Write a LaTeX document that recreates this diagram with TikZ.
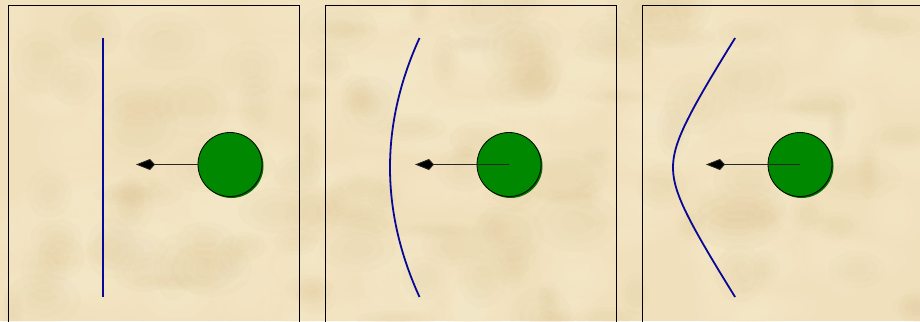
\documentclass[tikz,border=0pt]{standalone}
\usetikzlibrary{arrows.meta}
\definecolor{parch}{RGB}{240,224,188}
\definecolor{parchlight}{RGB}{250,238,208}
\definecolor{parchdark}{RGB}{222,198,150}
\definecolor{ballgreen}{RGB}{0,136,0}
\definecolor{navy}{RGB}{8,8,150}
\tikzset{
  panelbox/.style={draw=black, line width=1pt},
  ball/.style={circle, minimum size=64pt, inner sep=0pt, fill=ballgreen, draw=black, line width=0.8pt},
  ballshadow/.style={circle, minimum size=64pt, inner sep=0pt, fill=ballgreen!80!black},
  forcearrow/.style={draw=black!85, line width=0.9pt, -{Kite[length=19pt,width=11pt,inset=5pt,fill=black]}},
  wave/.style={draw=navy, line width=1.8pt}
}
\begin{document}
\begin{tikzpicture}[x=1pt,y=-1pt]
\clip (0,0) rectangle (920,321);
\fill[parch] (0,0) rectangle (920,321);
% parchment texture (soft mottling)
\pgfmathsetseed{7}
\foreach \i in {1,...,170} {
  \pgfmathsetmacro{\px}{rnd*920}
  \pgfmathsetmacro{\py}{rnd*321}
  \pgfmathsetmacro{\rx}{15+rnd*45}
  \pgfmathsetmacro{\ry}{10+rnd*30}
  \foreach \s in {1,0.7,0.4} {
    \fill[parchlight, opacity=0.12] (\px,\py) ellipse ({\s*\rx pt} and {\s*\ry pt});
  }
}
\foreach \i in {1,...,120} {
  \pgfmathsetmacro{\px}{rnd*920}
  \pgfmathsetmacro{\py}{rnd*321}
  \pgfmathsetmacro{\rx}{10+rnd*35}
  \pgfmathsetmacro{\ry}{8+rnd*25}
  \foreach \s in {1,0.7,0.4} {
    \fill[parchdark, opacity=0.07] (\px,\py) ellipse ({\s*\rx pt} and {\s*\ry pt});
  }
}
% panel frames
\draw[panelbox] (8,340) -- (8,6) -- (299,6) -- (299,340);
\draw[panelbox] (325,340) -- (325,6) -- (616,6) -- (616,340);
\draw[panelbox] (642,340) -- (642,6) -- (940,6);

% panel 1
\draw[wave] (103,38) -- (103,297);
\node[ballshadow] at (231.5,166) {};
\node[ball] (c1) at (230,164.5) {};
\coordinate (t1) at (136,164.5);
\draw[forcearrow] (c1.west) -- (t1);

% panel 2
\draw[wave] plot[domain=-129.5:129.5, samples=80, smooth] ({390+29.5*(\x/129.5)*(\x/129.5)}, {167.5+\x});
\node[ballshadow] at (510.5,166) {};
\node[ball] (c2) at (509,164.5) {};
\coordinate (t2) at (415,164.5);
\draw[forcearrow] (c2.center) -- (t2);

% panel 3
\draw[wave] plot[domain=-129.5:129.5, samples=80, smooth] ({673+26*(sqrt(1+(\x/40)*(\x/40))-1)}, {167.5+\x});
\node[ballshadow] at (801.5,166) {};
\node[ball] (c3) at (800,164.5) {};
\coordinate (t3) at (706,164.5);
\draw[forcearrow] (c3.center) -- (t3);
\end{tikzpicture}
\end{document}
